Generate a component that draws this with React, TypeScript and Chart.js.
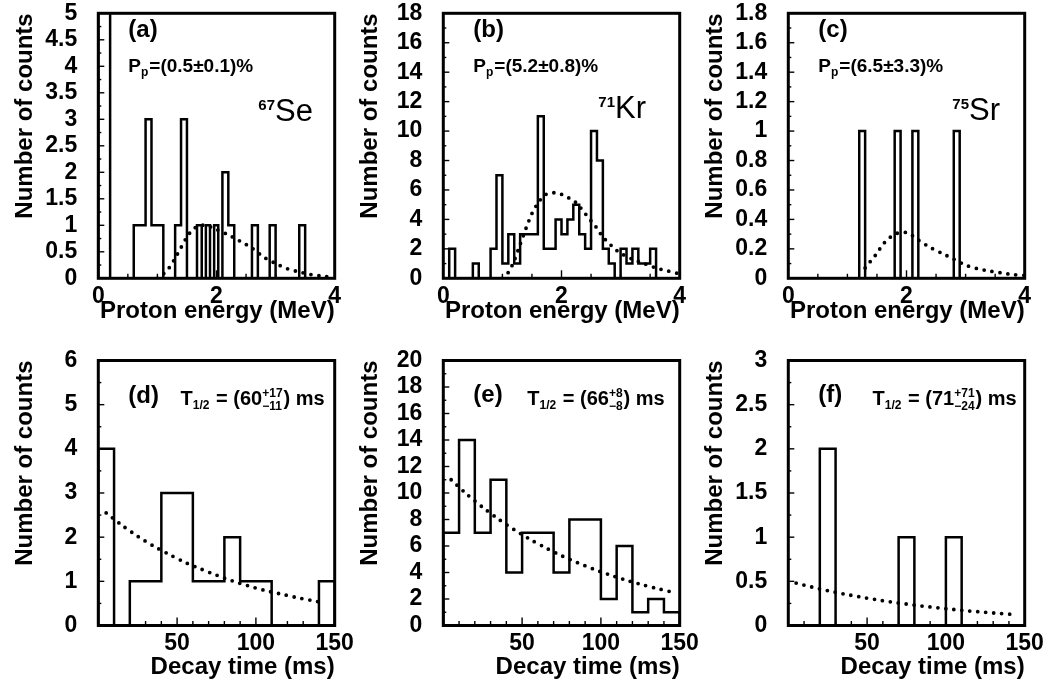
import React, { useEffect, useRef } from "react";
import { Chart, registerables } from "chart.js";

Chart.register(...registerables);

const FONT = "'Liberation Sans', Arial, Helvetica, sans-serif";
Chart.defaults.font.family = FONT;
Chart.defaults.color = "#000";

// ---------- (a) 67Se proton energy spectrum (MeV) ----------
const seEnergyEdges = [0, 0.2, 0.6, 0.8, 0.9, 1.1, 1.3, 1.4, 1.5, 1.67, 1.75, 1.82, 1.89, 1.96, 2.03, 2.1, 2.2, 2.3, 2.6, 2.7, 2.9, 3.0, 3.4, 3.5, 4.0];
const seEnergyCounts = [12, 0, 1, 3, 1, 0, 1, 3, 0, 1, 0, 1, 0, 1, 0, 2, 1, 0, 1, 0, 1, 0, 1, 0];
const seEnergyFitX = [1.0, 1.1, 1.2, 1.3, 1.4, 1.5, 1.6, 1.7, 1.8, 1.9, 2.0, 2.2, 2.4, 2.6, 2.8, 3.0, 3.2, 3.4, 3.6, 3.8, 4.0];
const seEnergyFitY = [0.0, 0.08, 0.2, 0.38, 0.58, 0.78, 0.92, 0.99, 1.0, 0.97, 0.92, 0.82, 0.7, 0.57, 0.4, 0.28, 0.18, 0.12, 0.07, 0.04, 0.02];

// ---------- (b) 71Kr proton energy spectrum, 0.1 MeV bins ----------
const energyBinWidth = 0.1;
const krEnergyCounts = [0, 2, 0, 0, 0, 1, 0, 0, 2, 7, 1, 3, 1, 3, 3, 3, 11, 2, 2, 4, 3, 4, 5, 3, 2, 10, 8, 2, 1, 0, 2, 1, 2, 1, 1, 2, 0, 0, 0, 0];
const krEnergyFitX = [1.0, 1.1, 1.2, 1.3, 1.4, 1.5, 1.6, 1.7, 1.8, 1.9, 2.0, 2.1, 2.2, 2.3, 2.4, 2.5, 2.6, 2.7, 2.8, 2.9, 3.0, 3.2, 3.4, 3.6, 3.8, 4.0];
const krEnergyFitY = [0.0, 0.4, 1.2, 2.3, 3.4, 4.4, 5.1, 5.6, 5.8, 5.8, 5.7, 5.5, 5.3, 4.9, 4.4, 3.9, 3.4, 2.8, 2.4, 2.0, 1.7, 1.3, 1.0, 0.7, 0.5, 0.3];

// ---------- (c) 75Sr proton energy spectrum, 0.1 MeV bins ----------
const srEnergyCounts = [0, 0, 0, 0, 0, 0, 0, 0, 0, 0, 0, 0, 1, 0, 0, 0, 0, 0, 1, 0, 0, 1, 0, 0, 0, 0, 0, 0, 1, 0, 0, 0, 0, 0, 0, 0, 0, 0, 0, 0];
const srEnergyFitX = [1.3, 1.4, 1.5, 1.6, 1.7, 1.8, 1.9, 2.0, 2.1, 2.2, 2.4, 2.6, 2.8, 3.0, 3.2, 3.4, 3.6, 3.8, 4.0];
const srEnergyFitY = [0.07, 0.12, 0.17, 0.23, 0.27, 0.3, 0.31, 0.31, 0.29, 0.26, 0.21, 0.17, 0.13, 0.09, 0.065, 0.05, 0.037, 0.025, 0.02];

// ---------- (d)(e)(f) decay-time spectra, 10 ms bins ----------
const timeBinWidth = 10;
const seTimeCounts = [4, 0, 1, 1, 3, 3, 1, 1, 2, 1, 1, 0, 0, 0, 1];
const krTimeCounts = [7, 14, 7, 11, 4, 7, 7, 4, 8, 8, 2, 6, 1, 2, 1];
const srTimeCounts = [0, 0, 2, 0, 0, 0, 0, 1, 0, 0, 1, 0, 0, 0, 0];
const timeFitX = [5, 15, 25, 35, 45, 55, 65, 75, 85, 95, 105, 115, 125, 135, 144];
const seTimeFitY = [2.55, 2.27, 2.02, 1.8, 1.61, 1.43, 1.28, 1.14, 1.01, 0.9, 0.8, 0.72, 0.64, 0.57, 0.51];
const krTimeFitY = [11.0, 9.9, 8.92, 8.03, 7.23, 6.51, 5.86, 5.27, 4.75, 4.27, 3.85, 3.46, 3.12, 2.81, 2.56];
const srTimeFitY = [0.48, 0.435, 0.395, 0.358, 0.325, 0.295, 0.267, 0.243, 0.22, 0.2, 0.181, 0.164, 0.149, 0.135, 0.124];

// ---------- axes and labels ----------
const energyYMax = [5, 18, 1.8];
const energyYStep = [0.5, 2, 0.2];
const timeYMax = [6, 20, 3];
const timeYStep = [1, 2, 0.5];
const panelTags = ["(a)", "(b)", "(c)", "(d)", "(e)", "(f)"];
const branchingRatios = ["0.5±0.1", "5.2±0.8", "6.5±3.3"];
const nuclideMass = ["67", "71", "75"];
const nuclideSymbol = ["Se", "Kr", "Sr"];
const halfLifeValue = ["60", "66", "71"];
const halfLifeUp = ["+17", "+8", "+71"];
const halfLifeDown = ["−11", "−8", "−24"];
const energyTitle = "Proton energy (MeV)";
const timeTitle = "Decay time (ms)";
const yTitle = "Number of counts";

function uniformEdges(width: number, n: number) {
  const e: number[] = [];
  for (let i = 0; i <= n; i++) e.push(Math.round(i * width * 1000) / 1000);
  return e;
}

function histPoints(edges: number[], counts: number[]) {
  const pts = [{ x: edges[0], y: 0 }];
  counts.forEach((c, i) => pts.push({ x: edges[i], y: c }));
  pts.push({ x: edges[edges.length - 1], y: 0 });
  return pts;
}

function curvePoints(xs: number[], ys: number[]) {
  return xs.map((x, i) => ({ x, y: ys[i] }));
}

type Run = { kind: "n" | "sub" | "sup" | "stack"; text?: string; up?: string; dn?: string };

function drawRuns(ctx: CanvasRenderingContext2D, runs: Run[], x: number, base: number, size: number, weight: string, align: "left" | "right") {
  const small = Math.round(size * 0.62);
  const big = `${weight} ${size}px ${FONT}`;
  const sm = `${weight} ${small}px ${FONT}`;
  const widths = runs.map((r) => {
    if (r.kind === "n") {
      ctx.font = big;
      return ctx.measureText(r.text || "").width;
    }
    ctx.font = sm;
    if (r.kind === "stack") return Math.max(ctx.measureText(r.up || "").width, ctx.measureText(r.dn || "").width) + 1;
    return ctx.measureText(r.text || "").width + 1;
  });
  const total = widths.reduce((a, b) => a + b, 0);
  let cx = align === "right" ? x - total : x;
  ctx.textAlign = "left";
  ctx.textBaseline = "alphabetic";
  runs.forEach((r, i) => {
    if (r.kind === "n") {
      ctx.font = big;
      ctx.fillText(r.text || "", cx, base);
    } else {
      ctx.font = sm;
      if (r.kind === "sub") ctx.fillText(r.text || "", cx, base + size * 0.22);
      else if (r.kind === "sup") ctx.fillText(r.text || "", cx, base - size * 0.42);
      else {
        ctx.fillText(r.up || "", cx, base - size * 0.36);
        ctx.fillText(r.dn || "", cx, base + size * 0.26);
      }
    }
    cx += widths[i];
  });
}

type Panel = {
  id: string;
  idx: number;
  kind: "energy" | "time";
  left: number;
  top: number;
  h: number;
  padTop: number;
  xH: number;
  xTitlePad: number;
  edges: number[];
  counts: number[];
  fitX: number[];
  fitY: number[];
  xMax: number;
  xStep: number;
  xMinor: number;
  xMajor: number;
  yMax: number;
  yStep: number;
  nucX?: number;
  nucBase?: number;
  tagBase: number;
  tRight?: number;
};

const TOP = { top: 0, h: 330, padTop: 13.3, xH: 51.7, xTitlePad: 4.1 };
const BOT = { top: 347, h: 335, padTop: 13.5, xH: 56.5, xTitlePad: 0.5 };

const PANELS: Panel[] = [
  { id: "a", idx: 0, kind: "energy", left: 0, ...TOP, edges: seEnergyEdges, counts: seEnergyCounts, fitX: seEnergyFitX, fitY: seEnergyFitY, xMax: 4, xStep: 2, xMinor: 0.5, xMajor: 2, yMax: energyYMax[0], yStep: energyYStep[0], nucX: 160, nucBase: 108, tagBase: 24 },
  { id: "b", idx: 1, kind: "energy", left: 345, ...TOP, edges: uniformEdges(energyBinWidth, krEnergyCounts.length), counts: krEnergyCounts, fitX: krEnergyFitX, fitY: krEnergyFitY, xMax: 4, xStep: 2, xMinor: 0.5, xMajor: 2, yMax: energyYMax[1], yStep: energyYStep[1], nucX: 155, nucBase: 105, tagBase: 24 },
  { id: "c", idx: 2, kind: "energy", left: 690, ...TOP, edges: uniformEdges(energyBinWidth, srEnergyCounts.length), counts: srEnergyCounts, fitX: srEnergyFitX, fitY: srEnergyFitY, xMax: 4, xStep: 2, xMinor: 0.5, xMajor: 2, yMax: energyYMax[2], yStep: energyYStep[2], nucX: 164, nucBase: 107, tagBase: 24 },
  { id: "d", idx: 0, kind: "time", left: 0, ...BOT, edges: uniformEdges(timeBinWidth, seTimeCounts.length), counts: seTimeCounts, fitX: timeFitX, fitY: seTimeFitY, xMax: 150, xStep: 50, xMinor: 10, xMajor: 50, yMax: timeYMax[0], yStep: timeYStep[0], tagBase: 42.5, tRight: 10 },
  { id: "e", idx: 1, kind: "time", left: 345, ...BOT, edges: uniformEdges(timeBinWidth, krTimeCounts.length), counts: krTimeCounts, fitX: timeFitX, fitY: krTimeFitY, xMax: 150, xStep: 50, xMinor: 10, xMajor: 50, yMax: timeYMax[1], yStep: timeYStep[1], tagBase: 41.5, tRight: 15 },
  { id: "f", idx: 2, kind: "time", left: 690, ...BOT, edges: uniformEdges(timeBinWidth, srTimeCounts.length), counts: srTimeCounts, fitX: timeFitX, fitY: srTimeFitY, xMax: 150, xStep: 50, xMinor: 10, xMajor: 50, yMax: timeYMax[2], yStep: timeYStep[2], tagBase: 41.5, tRight: 8 },
];

const CANVAS_W = 360;
const Y_AXIS_W = 98.3;
const RIGHT_PAD = 25.3;

function makeChart(canvas: HTMLCanvasElement, p: Panel) {
  const tagIndex = p.kind === "energy" ? p.idx : p.idx + 3;
  const deco = {
    id: "deco" + p.id,
    afterDatasetsDraw(chart: any) {
      const { ctx, chartArea: a, scales } = chart;
      const xs = scales.x;
      const ys = scales.y;
      ctx.save();
      ctx.strokeStyle = "#000";
      ctx.lineWidth = 1.4;
      const nx = Math.round(p.xMax / p.xMinor);
      for (let i = 1; i < nx; i++) {
        const v = i * p.xMinor;
        const px = xs.getPixelForValue(v);
        const isMajor = Math.abs(v / p.xMajor - Math.round(v / p.xMajor)) < 1e-6;
        const len = isMajor ? 8 : 4.5;
        ctx.beginPath();
        ctx.moveTo(px, a.bottom);
        ctx.lineTo(px, a.bottom - len);
        ctx.stroke();
      }
      const ny = Math.round((p.yMax / p.yStep) * 2);
      for (let i = 1; i < ny; i++) {
        const v = (i * p.yStep) / 2;
        const py = ys.getPixelForValue(v);
        const len = i % 2 === 0 ? 6 : 3;
        ctx.beginPath();
        ctx.moveTo(a.left, py);
        ctx.lineTo(a.left + len, py);
        ctx.stroke();
      }
      ctx.lineWidth = 3;
      ctx.strokeRect(a.left, a.top, a.right - a.left, a.bottom - a.top);
      ctx.restore();
    },
    afterDraw(chart: any) {
      const { ctx, chartArea: a } = chart;
      ctx.save();
      ctx.fillStyle = "#000";
      ctx.textAlign = "left";
      ctx.textBaseline = "alphabetic";
      ctx.font = `bold 24px ${FONT}`;
      ctx.fillText(panelTags[tagIndex], a.left + 30, a.top + p.tagBase);
      if (p.kind === "energy") {
        drawRuns(
          ctx,
          [
            { kind: "n", text: "P" },
            { kind: "sub", text: "p" },
            { kind: "n", text: "=(" + branchingRatios[p.idx] + ")%" },
          ],
          a.left + 30,
          a.top + 58.7,
          19,
          "bold",
          "left"
        );
        const nx = a.left + (p.nucX || 0);
        const nb = a.top + (p.nucBase || 0);
        ctx.font = `bold 15px ${FONT}`;
        ctx.fillText(nuclideMass[p.idx], nx, nb - 11);
        const mw = ctx.measureText(nuclideMass[p.idx]).width;
        ctx.font = `normal 31px ${FONT}`;
        ctx.fillText(nuclideSymbol[p.idx], nx + mw, nb);
      } else {
        drawRuns(
          ctx,
          [
            { kind: "n", text: "T" },
            { kind: "sub", text: "1/2" },
            { kind: "n", text: " = (" + halfLifeValue[p.idx] },
            { kind: "stack", up: halfLifeUp[p.idx], dn: halfLifeDown[p.idx] },
            { kind: "n", text: ") ms" },
          ],
          a.right - (p.tRight || 0),
          a.top + 44,
          20,
          "bold",
          "right"
        );
      }
      ctx.restore();
    },
  };

  return new Chart(canvas, {
    type: "scatter",
    data: {
      datasets: [
        {
          data: histPoints(p.edges, p.counts),
          showLine: true,
          stepped: true,
          borderColor: "#000",
          borderWidth: 2.5,
          pointRadius: 0,
          fill: false,
        },
        {
          data: curvePoints(p.fitX, p.fitY),
          showLine: true,
          borderColor: "#000",
          borderWidth: 3.8,
          borderDash: [0, 8],
          borderCapStyle: "round",
          pointRadius: 0,
          tension: 0.3,
          fill: false,
        },
      ] as any,
    },
    options: {
      animation: false,
      responsive: false,
      maintainAspectRatio: false,
      events: [],
      layout: { padding: { left: 0, top: p.padTop, right: RIGHT_PAD, bottom: 0 } },
      plugins: { legend: { display: false }, tooltip: { enabled: false } },
      scales: {
        x: {
          type: "linear",
          min: 0,
          max: p.xMax,
          grid: { display: false },
          border: { display: false },
          ticks: {
            stepSize: p.xStep,
            autoSkip: false,
            maxRotation: 0,
            padding: -1,
            color: "#000",
            font: { size: 23, weight: "bold", lineHeight: 1 },
            callback: (v: any) => (p.kind === "time" && v === 0 ? "" : String(v)),
          },
          title: {
            display: true,
            text: p.kind === "energy" ? energyTitle : timeTitle,
            align: "end",
            color: "#000",
            font: { size: 24, weight: "bold", lineHeight: 1.2 },
            padding: { top: 0, bottom: p.xTitlePad },
          },
          afterFit: (s: any) => {
            s.height = p.xH;
            s.paddingLeft = 0;
            s.paddingRight = 0;
          },
        },
        y: {
          type: "linear",
          min: 0,
          max: p.yMax,
          grid: { display: false },
          border: { display: false },
          ticks: {
            stepSize: p.yStep,
            autoSkip: false,
            padding: 13,
            color: "#000",
            font: { size: 23, weight: "bold", lineHeight: 1 },
            callback: (v: any) => String(v),
          },
          title: {
            display: true,
            text: yTitle,
            align: "end",
            color: "#000",
            font: { size: 24, weight: "bold", lineHeight: 1.2 },
            padding: { top: 10.6, bottom: 0 },
          },
          afterFit: (s: any) => {
            s.width = Y_AXIS_W;
            s.paddingTop = 0;
            s.paddingBottom = 0;
          },
        },
      },
    } as any,
    plugins: [deco],
  });
}

export default function App() {
  const refs = useRef<(HTMLCanvasElement | null)[]>([]);
  useEffect(() => {
    const charts = PANELS.map((p, i) => makeChart(refs.current[i] as HTMLCanvasElement, p));
    return () => charts.forEach((c) => c.destroy());
  }, []);
  return (
    <div style={{ position: "absolute", left: 0, top: 0, width: 1052, height: 682, background: "#fff", overflow: "hidden" }}>
      {PANELS.map((p, i) => (
        <canvas
          key={p.id}
          ref={(el) => {
            refs.current[i] = el;
          }}
          width={CANVAS_W}
          height={p.h}
          style={{ position: "absolute", left: p.left, top: p.top, width: CANVAS_W, height: p.h }}
        />
      ))}
    </div>
  );
}
